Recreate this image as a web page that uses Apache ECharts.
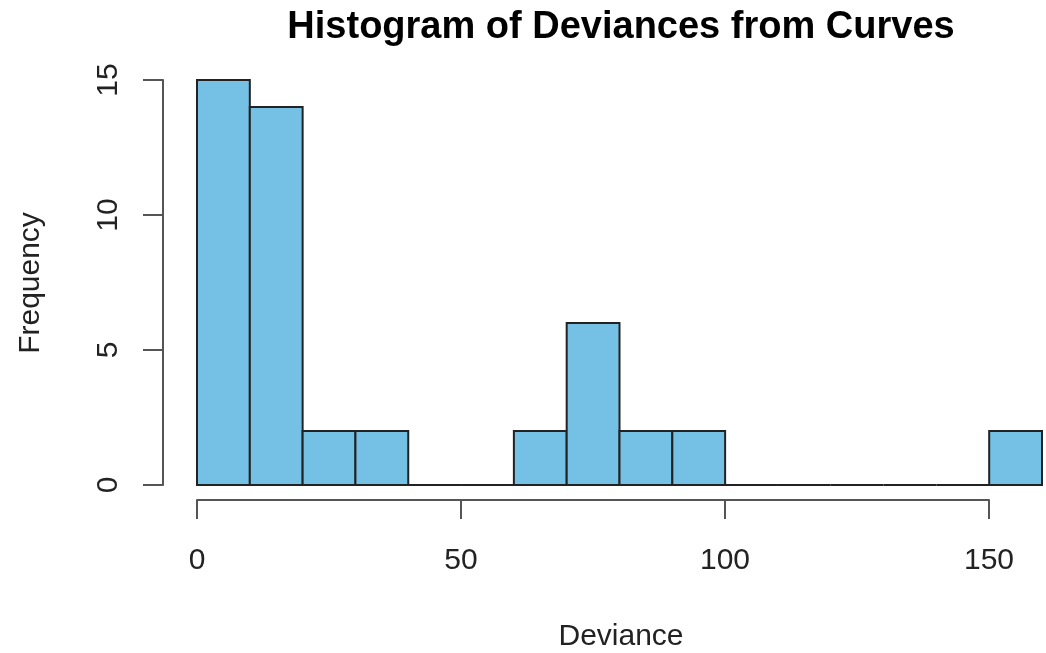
<!DOCTYPE html>
<html>
<head>
<meta charset="utf-8">
<script src="https://cdn.jsdelivr.net/npm/echarts@6/dist/echarts.min.js"></script>
<style>html,body{margin:0;padding:0;background:#fff;}#c{width:1046px;height:653px;}</style>
</head>
<body>
<div id="c"></div>
<script>
var binStarts = [0, 10, 20, 30, 40, 50, 60, 70, 80, 90, 100, 110, 120, 130, 140, 150];
var binEnds   = [10, 20, 30, 40, 50, 60, 70, 80, 90, 100, 110, 120, 130, 140, 150, 160];
var counts    = [15, 14, 2, 2, 0, 0, 2, 6, 2, 2, 0, 0, 0, 0, 0, 2];
var xTicks = [0, 50, 100, 150];
var yTicks = [0, 5, 10, 15];
var titleText = 'Histogram of Deviances from Curves';
var xName = 'Deviance';
var yName = 'Frequency';

var data = binStarts.map(function (s, i) { return [s, binEnds[i], counts[i]]; });
var font = '"Liberation Sans", Arial, Helvetica, sans-serif';

var chart = echarts.init(document.getElementById('c'), null, {renderer: 'canvas'});
chart.setOption({
  animation: false,
  backgroundColor: '#ffffff',
  graphic: [
    {type: 'text', x: 621, y: 28, style: {text: titleText, font: 'bold 38px ' + font, fill: '#000', align: 'center', verticalAlign: 'middle'}},
    {type: 'text', x: 621, y: 637, style: {text: xName, font: '30px ' + font, fill: '#222', align: 'center', verticalAlign: 'middle'}},
    {type: 'text', x: 31, y: 283, rotation: Math.PI / 2, style: {text: yName, font: '30px ' + font, fill: '#222', align: 'center', verticalAlign: 'middle'}}
  ],
  grid: [
    {left: 197, right: 4, top: 80, bottom: 168},
    {left: 197, right: 57, top: 80, bottom: 168}
  ],
  xAxis: [
    {type: 'value', gridIndex: 0, min: 0, max: 160, show: false},
    {type: 'value', gridIndex: 1, min: 0, max: 150, interval: 50, offset: 15,
     axisLine: {show: true, onZero: false, lineStyle: {color: '#555', width: 2}},
     axisTick: {show: true, length: 19, lineStyle: {color: '#555', width: 2}},
     axisLabel: {show: true, margin: 46, fontFamily: font, fontSize: 30, color: '#222',
       customValues: xTicks},
     splitLine: {show: false}}
  ],
  yAxis: [
    {type: 'value', gridIndex: 0, min: 0, max: 15, interval: 5, offset: 34,
     axisLine: {show: true, onZero: false, lineStyle: {color: '#555', width: 2}},
     axisTick: {show: true, length: 20, lineStyle: {color: '#555', width: 2}},
     axisLabel: {show: true, rotate: 90, margin: 39, fontFamily: font, fontSize: 30, color: '#222',
       customValues: yTicks},
     splitLine: {show: false}},
    {type: 'value', gridIndex: 1, min: 0, max: 15, show: false}
  ],
  series: [{
    type: 'custom',
    xAxisIndex: 0, yAxisIndex: 0,
    data: data,
    renderItem: function (params, api) {
      var p0 = api.coord([api.value(0), api.value(2)]);
      var p1 = api.coord([api.value(1), 0]);
      return {
        type: 'rect',
        shape: {x: p0[0], y: p0[1], width: p1[0] - p0[0], height: p1[1] - p0[1]},
        style: {fill: '#75c1e5', stroke: '#222', lineWidth: 2}
      };
    }
  }]
});
</script>
</body>
</html>
